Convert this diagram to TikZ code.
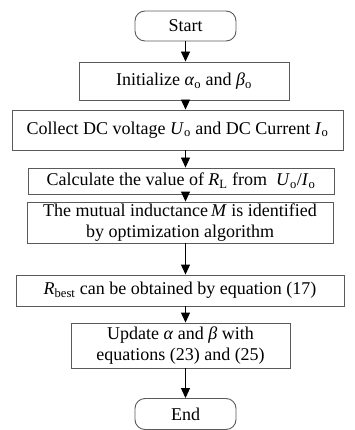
\documentclass[tikz,border=0pt]{standalone}
\usepackage{fontspec}
\setmainfont{Liberation Serif}
\usetikzlibrary{arrows.meta}
\definecolor{boxgray}{HTML}{5A5A5A}
\newcommand{\lo}{\textsubscript{o}}
\newcommand{\bodyfont}{\fontsize{18}{21.5}\selectfont}
\tikzset{
  box/.style={draw=boxgray, line width=0.9pt, inner sep=0pt, align=center, font=\bodyfont},
  term/.style={box, rounded corners=10pt},
  flow/.style={-{Triangle[width=9pt,length=10pt]}, line width=0.9pt, black},
}
\begin{document}
\begin{tikzpicture}[x=1pt,y=-1pt]
  \useasboundingbox (0,0) rectangle (354,430);
  % process boxes, top to bottom
  \node[term, minimum width=101pt, minimum height=30pt] (start) at (185.5,26) {Start};
  \node[box, minimum width=210pt, minimum height=38pt] (init) at (184,81)
    {Initialize \textit{α}\lo{} and \textit{β}\lo};
  \node[box, minimum width=331pt, minimum height=40pt] (collect) at (177.5,130)
    {Collect DC voltage \textit{U}\lo{} and DC Current \textit{I}\lo};
  \node[box, minimum width=306pt, minimum height=26pt] (calc) at (181,181)
    {Calculate the value of \textit{R}\textsubscript{L} from\ \ \textit{U}\lo/\textit{I}\lo};
  \node[box, minimum width=306pt, minimum height=41pt] (mutual) at (180,222.5)
    {The mutual inductance\,\textit{M} is identified\\by optimization algorithm};
  \node[box, minimum width=328pt, minimum height=31pt] (rbest) at (180,290.5)
    {\textit{R}\textsubscript{best} can be obtained by equation (17)};
  \node[box, minimum width=219pt, minimum height=45pt] (update) at (180.5,345.5)
    {Update \textit{α} and \textit{β} with\\equations (23) and (25)};
  \node[term, minimum width=101pt, minimum height=31pt] (end) at (185.5,414) {End};
  % connectors along one vertical line
  \draw[flow] (start.south) -- (start.south |- init.north);
  \draw[flow] (start.south |- init.south) -- (start.south |- collect.north);
  \draw[flow] (start.south |- collect.south) -- (start.south |- calc.north);
  \draw[flow] (start.south |- calc.south) -- (start.south |- mutual.north);
  \draw[flow] (start.south |- mutual.south) -- (start.south |- rbest.north);
  \draw[flow] (start.south |- rbest.south) -- (start.south |- update.north);
  \draw[flow] (start.south |- update.south) -- (end.north);
\end{tikzpicture}
\end{document}
